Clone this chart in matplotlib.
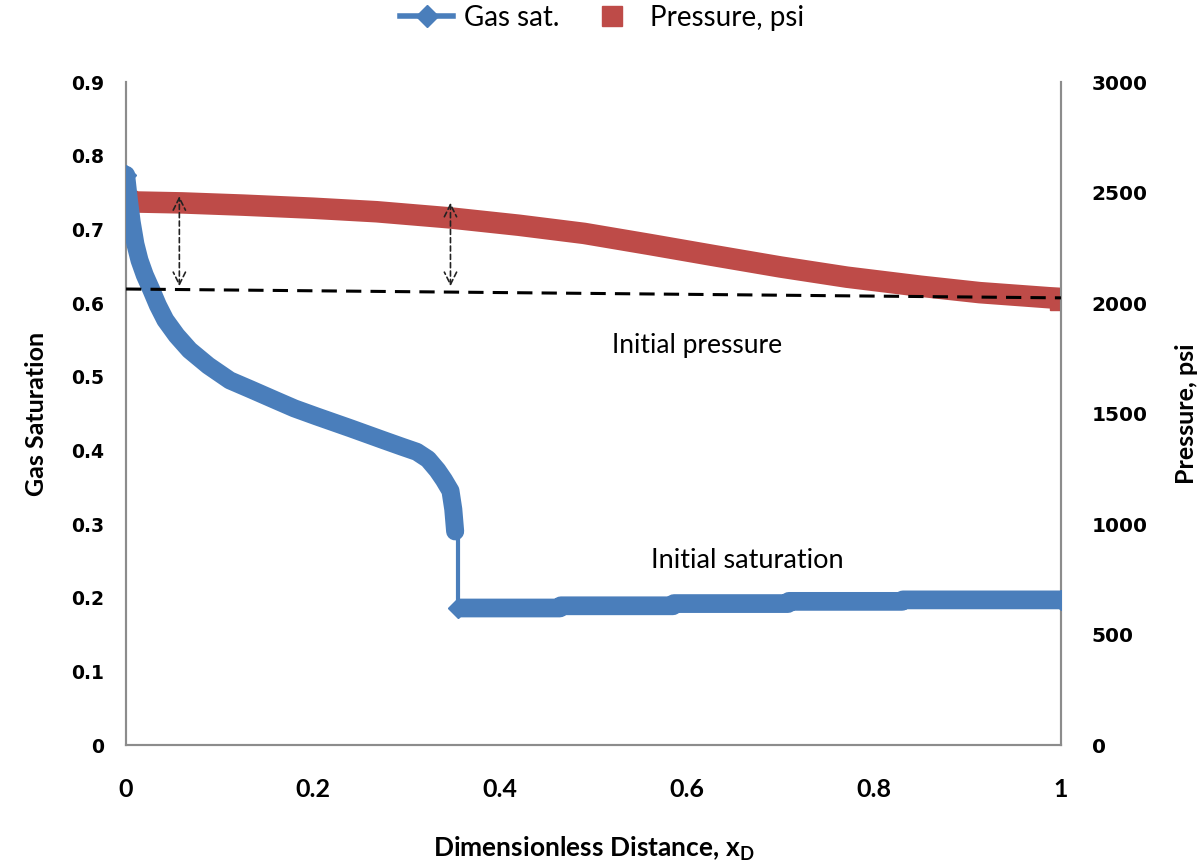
import matplotlib
matplotlib.use('Agg')
import matplotlib.pyplot as plt
from matplotlib.lines import Line2D
import numpy as np

# Gas saturation profile (left axis), shock front at x_D ~ 0.355
xd_sat = [0.0, 0.003, 0.006, 0.010, 0.0144, 0.020, 0.027, 0.034, 0.042, 0.054,
          0.068, 0.088, 0.111, 0.133, 0.160, 0.180, 0.204, 0.240, 0.275, 0.295,
          0.311, 0.323, 0.333, 0.340, 0.347, 0.350, 0.352]
gas_sat = [0.774, 0.740, 0.710, 0.680, 0.658, 0.638, 0.618, 0.597, 0.577, 0.556,
           0.536, 0.515, 0.495, 0.483, 0.468, 0.457, 0.446, 0.430, 0.414, 0.405,
           0.398, 0.388, 0.373, 0.360, 0.345, 0.320, 0.290]
xd_front = [0.352, 0.355, 0.355]
sat_front = [0.290, 0.290, 0.186]
xd_init = [0.355, 0.464, 0.465, 0.585, 0.586, 0.708, 0.709, 0.83, 0.831, 1.0]
sat_init = [0.186, 0.186, 0.189, 0.189, 0.192, 0.192, 0.195, 0.195, 0.197, 0.197]

# Pressure profile (right axis)
xd_p = [0.0, 0.06, 0.125, 0.2, 0.268, 0.347, 0.42, 0.49, 0.56, 0.628, 0.7, 0.771,
        0.85, 0.913, 1.0]
pressure = [2458, 2453, 2443, 2429, 2413, 2385, 2352, 2315, 2265, 2215, 2163, 2117,
            2076, 2047, 2020]

# initial pressure reference line (drawn on saturation scale)
init_line_x = [0.0, 1.0]
init_line_y = [0.619, 0.607]

# arrows between initial and actual pressure
arrow_x = [0.057, 0.347]
arrow_top = [0.749, 0.740]

blue = '#4a7ebb'
red = '#be4b48'
lab_font = 'Lato'

fig = plt.figure(figsize=(12.04, 8.67), dpi=100)
ax = fig.add_axes([0.1047, 0.1407, 0.8812 - 0.1047, 0.9054 - 0.1407])
ax2 = ax.twinx()

ax2.plot(xd_p, pressure, color=red, lw=15.5, solid_capstyle='butt', zorder=2)
ax2.plot([xd_p[0], xd_p[-1]], [pressure[0], pressure[-1]], ls='none', marker='s', ms=15.5,
         color=red, zorder=2)

ax.set_zorder(ax2.get_zorder() + 1)
ax.patch.set_visible(False)

ax.plot(xd_sat, gas_sat, color=blue, lw=13, solid_capstyle='round', zorder=3)
ax.plot(xd_front, sat_front, color=blue, lw=3, zorder=3)
ax.plot(xd_init, sat_init, color=blue, lw=13.5, solid_capstyle='butt', zorder=3)
ax.plot([xd_sat[0], xd_init[0], xd_init[-1]], [gas_sat[0], sat_init[0], sat_init[-1]],
        ls='none', marker='D', ms=10, color=blue, zorder=3)

ax.plot(init_line_x, init_line_y, color='black', lw=2.2, ls=(0, (5, 3)), zorder=4)
for xa, ya in zip(arrow_x, arrow_top):
    ax.annotate('', xy=(xa, ya), xytext=(xa, init_line_y[0]),
                arrowprops=dict(arrowstyle='<->', color='#222222', lw=1.2,
                                linestyle=(0, (3, 2)), mutation_scale=22), zorder=5)

ax.text(0.611, 0.543, 'Initial pressure', ha='center', va='center', fontsize=19,
        family=lab_font)
ax.text(0.664, 0.251, 'Initial saturation', ha='center', va='center', fontsize=19.5,
        family=lab_font)

ax.set_xlim(0, 1)
ax.set_ylim(0, 0.9)
ax2.set_ylim(0, 3000)
ax.set_xticks([0, 0.2, 0.4, 0.6, 0.8, 1.0])
ax.set_xticklabels(['0', '0.2', '0.4', '0.6', '0.8', '1'])
ax.set_yticks(np.arange(0, 0.91, 0.1))
ax.set_yticklabels(['0', '0.1', '0.2', '0.3', '0.4', '0.5', '0.6', '0.7', '0.8', '0.9'])
ax2.set_yticks(np.arange(0, 3001, 500))

for a in (ax, ax2):
    a.spines['top'].set_visible(False)
    for s in ('left', 'right', 'bottom'):
        a.spines[s].set_color('#8c8c8c')
        a.spines[s].set_linewidth(1.5)
    a.tick_params(length=0)

ax.tick_params(axis='y', pad=16)
ax2.tick_params(axis='y', pad=22)
ax.tick_params(axis='x', pad=24)
for lab in ax.get_yticklabels():
    lab.set_fontweight('bold')
    lab.set_fontsize(13.5)
for lab in ax2.get_yticklabels():
    lab.set_fontweight('bold')
    lab.set_fontsize(14.5)
for lab in ax.get_xticklabels():
    lab.set_family(lab_font)
    lab.set_fontweight('bold')
    lab.set_fontsize(18)

ax.set_xlabel('Dimensionless Distance, x$_\\mathregular{D}$', family=lab_font,
              fontweight='bold', fontsize=19, labelpad=24)
ax.set_ylabel('Gas Saturation', family=lab_font, fontweight='bold', fontsize=18, labelpad=16)
ax2.set_ylabel('Pressure, psi', family=lab_font, fontweight='bold', fontsize=18,
               labelpad=20, rotation=90)

handles = [Line2D([0], [0], color=blue, lw=4, marker='D', ms=11),
           Line2D([0], [0], color=red, ls='none', marker='s', ms=14)]
fig.legend(handles, ['Gas sat.', 'Pressure, psi'], loc='center', bbox_to_anchor=(0.5, 0.979),
           ncol=2, frameon=False, prop={'family': lab_font, 'size': 20}, handlelength=1.9,
           columnspacing=0.95, handletextpad=0.4)

fig.savefig('out.png', dpi=100)
